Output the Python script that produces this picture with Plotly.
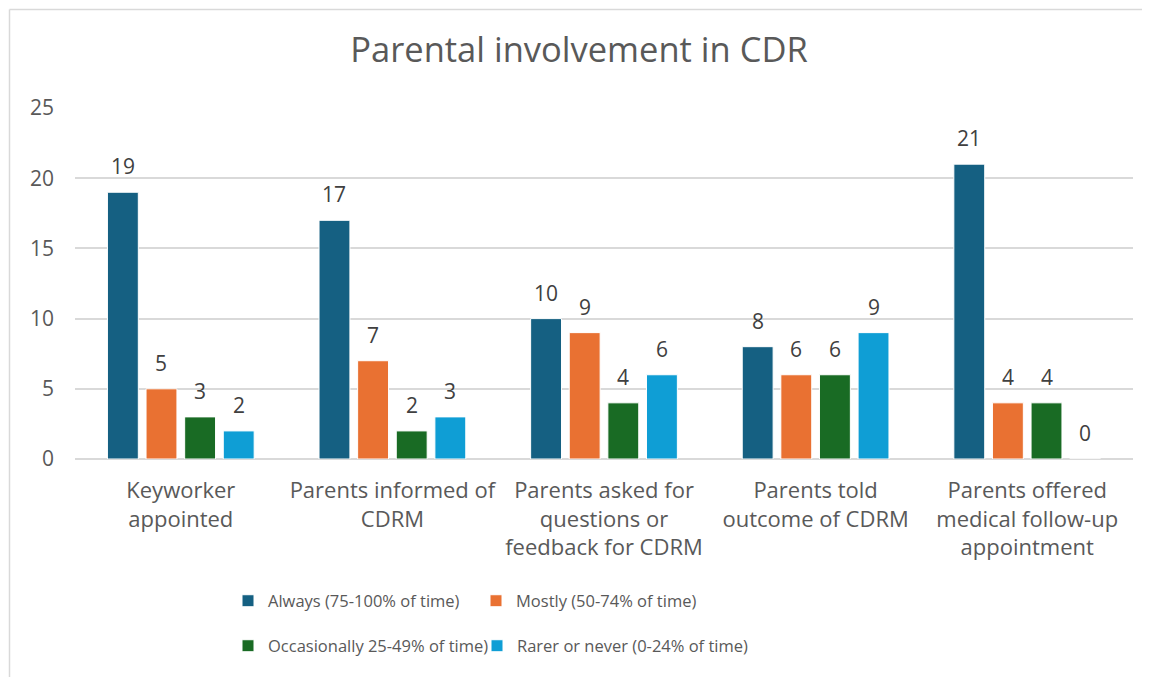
import plotly.graph_objects as go

categories = [
    "Keyworker<br>appointed",
    "Parents informed of<br>CDRM",
    "Parents asked for<br>questions or<br>feedback for CDRM",
    "Parents told<br>outcome of CDRM",
    "Parents offered<br>medical follow-up<br>appointment",
]
series_names = [
    "Always (75-100% of time)",
    "Mostly (50-74% of time)",
    "Occasionally 25-49% of time)",
    "Rarer or never (0-24% of time)",
]
always = [19, 17, 10, 8, 21]
mostly = [5, 7, 9, 6, 4]
occasionally = [3, 2, 4, 6, 4]
rarer = [2, 3, 6, 9, 0]
colors = ["#156082", "#E97132", "#196B24", "#0F9ED5"]
y_ticks = [0, 5, 10, 15, 20, 25]

FONT = "Open Sans"
TXT = "#595959"

# page has an 8px body margin; figure coordinates below are relative to the figure
W, H = 1142, 669
L, R, T, B = 67, 17, 100, 218
pw, ph = W - L - R, H - T - B
BARGAP, GROUPGAP = 0.27, 0.2

fig = go.Figure()
values = [always, mostly, occasionally, rarer]
legend_ids = ["legend", "legend2", "legend3", "legend4"]
for name, vals, col, lg in zip(series_names, values, colors, legend_ids):
    fig.add_trace(go.Bar(
        x=categories, y=vals, name=name,
        marker=dict(color=col, line=dict(color="white", width=1)),
        legend=lg,
    ))

# data labels
cat_w = pw / len(categories)
slot = cat_w * (1 - BARGAP) / len(values)
annotations = []
for i, vals in enumerate(values):
    shift = (i - (len(values) - 1) / 2) * slot
    for c, v in zip(categories, vals):
        annotations.append(dict(
            x=c, y=v, xref="x", yref="y", text=str(v), showarrow=False,
            xanchor="center", yanchor="middle", xshift=shift, yshift=26,
            font=dict(family=FONT, size=21, color="#404040"),
        ))


def px_x(p):
    return (p - L) / pw


def px_y(p):
    return (H - B - p) / ph


def leg(xpx, ypx):
    return dict(orientation="h", xref="container", yref="container",
                x=xpx / W, y=1 - ypx / H, xanchor="left", yanchor="middle",
                font=dict(family=FONT, size=16.5, color=TXT),
                bgcolor="rgba(0,0,0,0)")


fig.update_layout(
    width=W, height=H,
    margin=dict(l=L, r=R, t=T, b=B),
    paper_bgcolor="white", plot_bgcolor="white",
    barmode="group", bargap=BARGAP, bargroupgap=GROUPGAP,
    title=dict(text="Parental involvement in CDR", x=0.5, xref="container",
               y=1 - 42 / H, yref="container", xanchor="center", yanchor="middle",
               font=dict(family=FONT, size=34.5, color=TXT)),
    font=dict(family=FONT, color=TXT),
    xaxis=dict(showgrid=False, showline=False, ticks="", ticklabelstandoff=16,
               tickfont=dict(family=FONT, size=22, color=TXT)),
    yaxis=dict(range=[0, 25], tickvals=y_ticks, showgrid=True,
               gridcolor="#d9d9d9", gridwidth=1.5, zeroline=True,
               zerolinecolor="#d9d9d9", zerolinewidth=1.5, showline=False,
               ticks="", ticklabelstandoff=20,
               tickfont=dict(family=FONT, size=21, color=TXT)),
    legend=leg(220, 593),
    legend2=leg(468, 593),
    legend3=leg(220, 638),
    legend4=leg(469, 638),
    showlegend=True,
    annotations=annotations,
    shapes=[
        dict(type="line", xref="paper", yref="paper",
             x0=px_x(1.5), x1=px_x(1.5), y0=px_y(1.5), y1=px_y(700),
             line=dict(color="#d9d9d9", width=1.5)),
        dict(type="line", xref="paper", yref="paper",
             x0=px_x(1.5), x1=px_x(1200), y0=px_y(1.5), y1=px_y(1.5),
             line=dict(color="#d9d9d9", width=1.5)),
    ],
)

fig.write_html("out.html")
